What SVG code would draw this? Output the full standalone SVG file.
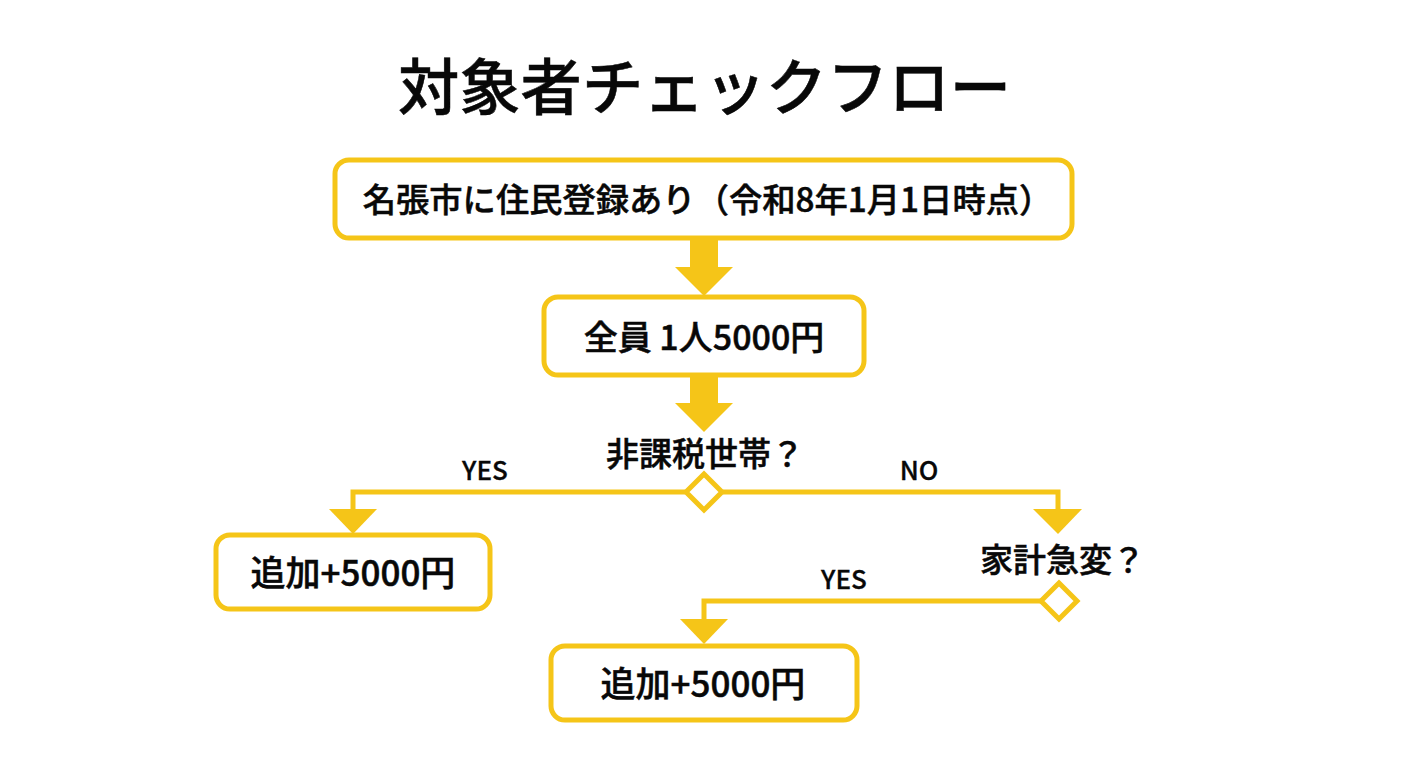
<svg xmlns="http://www.w3.org/2000/svg" width="1408" height="768" viewBox="0 0 1408 768">
<style>
text{font-family:"Noto Sans CJK JP","Noto Sans",sans-serif;font-weight:500;fill:#080808;stroke:#080808;stroke-width:.5px;text-anchor:middle}
.box{fill:#fff;stroke:#f5c518;stroke-width:5}
.line{fill:none;stroke:#f5c518;stroke-width:5}
.head{fill:#f5c518}
.dia{fill:#fff;stroke:#f5c518;stroke-width:5}
.t1{font-size:33.300px}
.t2{font-size:34px}
.t3{font-size:35px}
.q{font-size:33px}
.l{font-size:26px;stroke-width:.3px}
.title{font-size:61.300px}
</style>
<rect width="1408" height="768" fill="#fff"/>
<text id="title" class="title" x="704.500" y="110">対象者チェックフロー</text>
<g id="connectors">
<path class="head" d="M690 238H718V267H733L704 296L675 267H690Z"/>
<path class="head" d="M690 376H718V403H733L704 432L675 403H690Z"/>
<path class="line" d="M685 492H353V510"/>
<path class="head" d="M329 509H377L353 534Z"/>
<path class="line" d="M723 492H1058V510"/>
<path class="head" d="M1033 509H1082L1058 534Z"/>
<path class="line" d="M1041 601H704V620"/>
<path class="head" d="M680 619H728L704 644Z"/>
</g>
<g id="n1"><rect class="box" x="335" y="160" width="737" height="78" rx="14"/><text class="t1" x="707.500" y="212">名張市に住民登録あり（令和8年1月1日時点）</text></g>
<g id="n2"><rect class="box" x="544" y="297" width="320" height="78" rx="14"/><text class="t2" x="704" y="350">全員 1人5000円</text></g>
<g id="d1"><text class="q" x="705" y="466">非課税世帯？</text><polygon class="dia" points="704,474 722,492 704,510 686,492"/></g>
<text class="l" x="485" y="480">YES</text>
<text class="l" x="919" y="480">NO</text>
<g id="n3"><rect class="box" x="216" y="535" width="274" height="74" rx="14"/><text class="t3" x="353" y="586">追加+5000円</text></g>
<g id="d2"><text class="q" x="1062.500" y="572">家計急変？</text><polygon class="dia" points="1059,583 1077,601 1059,619 1041,601"/></g>
<text class="l" x="844" y="589">YES</text>
<g id="n4"><rect class="box" x="551" y="646" width="306" height="74" rx="14"/><text class="t3" x="703" y="697">追加+5000円</text></g>
</svg>
